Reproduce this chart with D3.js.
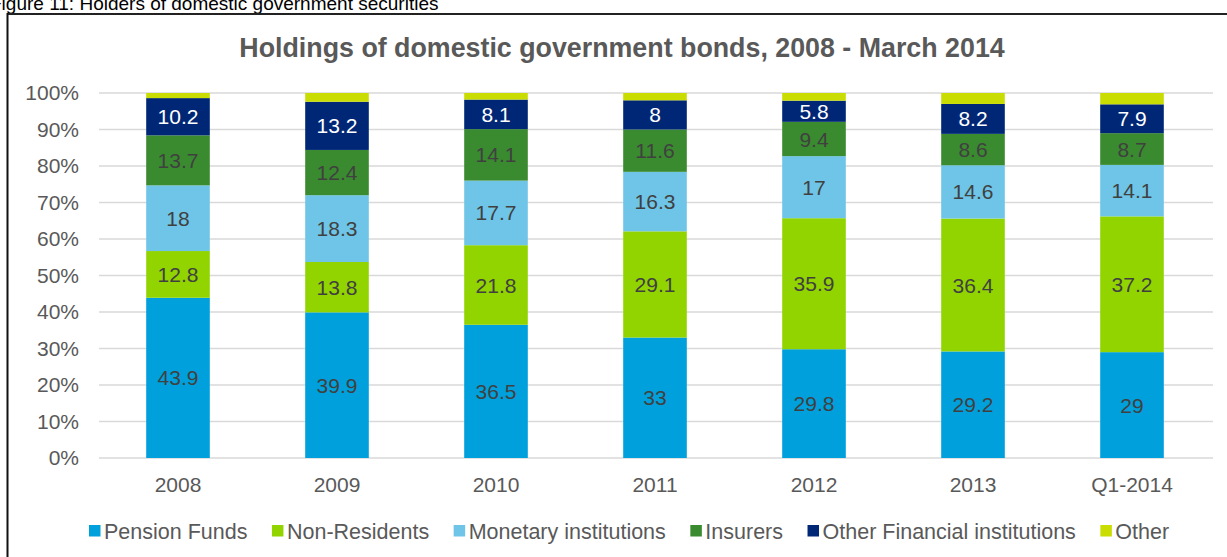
<!DOCTYPE html>
<html><head><meta charset="utf-8">
<script src="https://cdn.jsdelivr.net/npm/d3@7"></script>
<style>body{margin:0;background:#fff;}svg{display:block;font-family:"Liberation Sans",Arial,sans-serif;}</style>
</head><body>
<svg id="c" width="1227" height="557"></svg>
<script>
const categories = ["2008","2009","2010","2011","2012","2013","Q1-2014"];
const seriesNames = ["Pension Funds","Non-Residents","Monetary institutions","Insurers","Other Financial institutions","Other"];
const pensionFunds = [43.9,39.9,36.5,33,29.8,29.2,29];
const nonResidents = [12.8,13.8,21.8,29.1,35.9,36.4,37.2];
const monetary = [18,18.3,17.7,16.3,17,14.6,14.1];
const insurers = [13.7,12.4,14.1,11.6,9.4,8.6,8.7];
const otherFinancial = [10.2,13.2,8.1,8,5.8,8.2,7.9];
const other = [1.4,2.4,1.8,2.0,2.1,3.0,3.1];
const yTicks = [0,10,20,30,40,50,60,70,80,90,100];
const colors = ["#00A0DC","#92D400","#6EC5E7","#3A8B2F","#002776","#C9DD03"];
const labelColors = ["#404040","#404040","#404040","#404040","#ffffff",null];

const seriesVals = [pensionFunds,nonResidents,monetary,insurers,otherFinancial,other];
const rows = categories.map((c,i)=>{const r={cat:c}; seriesNames.forEach((s,j)=>r[s]=seriesVals[j][i]); return r;});
const stack = d3.stack().keys(seriesNames)(rows);
const total = rows.map(r=>d3.sum(seriesNames,s=>r[s]));

const svg = d3.select("#c");
const FS = 21;
// caption
svg.append("text").attr("x",-10).attr("y",10).attr("font-size",19).attr("fill","#000").text("Figure 11: Holders of domestic government securities");
// frame
svg.append("line").attr("x1",7.5).attr("x2",1227).attr("y1",14).attr("y2",14).attr("stroke","#222").attr("stroke-width",2);
svg.append("line").attr("x1",7.5).attr("x2",7.5).attr("y1",13).attr("y2",557).attr("stroke","#111").attr("stroke-width",2);

svg.append("text").attr("x",622).attr("y",57).attr("text-anchor","middle").attr("font-size",26.8).attr("font-weight","bold").attr("fill","#595959")
  .text("Holdings of domestic government bonds, 2008 - March 2014");

const x = d3.scaleBand().domain(categories).range([98.5,1211.5]).paddingInner(0.6).paddingOuter(0.3);
const y = d3.scaleLinear().domain([0,100]).range([458,93]);

// grid
svg.append("g").selectAll("line").data(yTicks).join("line")
  .attr("x1",99).attr("x2",1213).attr("y1",d=>y(d)).attr("y2",d=>y(d)).attr("stroke","#d9d9d9").attr("stroke-width",1.5);

// y axis
const ya = svg.append("g").attr("transform","translate(99,0)").call(d3.axisLeft(y).tickValues(yTicks).tickFormat(d=>d+"%").tickSize(0).tickPadding(20));
ya.select(".domain").remove();
ya.selectAll("text").attr("font-size",FS).attr("fill","#595959").attr("font-family","Liberation Sans, Arial, sans-serif");

// x axis
const xa = svg.append("g").attr("transform","translate(0,458)").call(d3.axisBottom(x).tickSize(0).tickPadding(19));
xa.select(".domain").remove();
xa.selectAll("text").attr("font-size",FS).attr("fill","#595959").attr("font-family","Liberation Sans, Arial, sans-serif");

// bars
stack.forEach((layer,j)=>{
  const g = svg.append("g");
  g.selectAll("rect").data(layer).join("rect")
    .attr("x",d=>x(d.data.cat)).attr("width",x.bandwidth())
    .attr("y",(d,i)=>y(d[1]/total[i]*100)).attr("height",(d,i)=>y(d[0]/total[i]*100)-y(d[1]/total[i]*100))
    .attr("fill",colors[j]);
  if(labelColors[j]){
    g.selectAll("text").data(layer).join("text")
      .attr("x",d=>x(d.data.cat)+x.bandwidth()/2)
      .attr("y",(d,i)=>(y(d[1]/total[i]*100)+y(d[0]/total[i]*100))/2)
      .attr("dy","0.36em").attr("text-anchor","middle").attr("font-size",FS).attr("fill",labelColors[j])
      .text(d=>d.data[seriesNames[j]]);
  }
});

// legend
const lg = svg.append("g");
let lx = 89;
seriesNames.forEach((s,j)=>{
  lg.append("rect").attr("x",lx).attr("y",525).attr("width",11.5).attr("height",11.5).attr("fill",colors[j]);
  const t = lg.append("text").attr("x",lx+15).attr("y",538.5).attr("font-size",21.5).attr("fill","#595959").text(s);
  lx += 15 + t.node().getComputedTextLength() + 24.5;
});
</script>
</body></html>
